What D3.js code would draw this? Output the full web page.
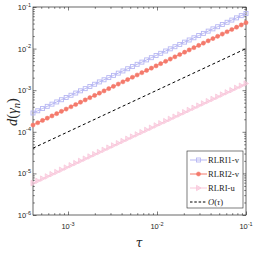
<!DOCTYPE html>
<html><head><meta charset="utf-8">
<script src="https://cdn.jsdelivr.net/npm/d3@7"></script>
<style>body{margin:0;background:#fff}svg{display:block}</style>
</head><body><svg id="c" width="254" height="255"></svg>
<script>
const tau = [4.04e-4,4.57e-4,5.17e-4,5.84e-4,6.60e-4,7.46e-4,8.43e-4,9.53e-4,1.08e-3,1.22e-3,1.38e-3,1.56e-3,1.76e-3,1.99e-3,2.25e-3,2.54e-3,2.87e-3,3.24e-3,3.67e-3,4.14e-3,4.68e-3,5.29e-3,5.98e-3,6.76e-3,7.64e-3,8.64e-3,9.76e-3,1.10e-2,1.25e-2,1.41e-2,1.59e-2,1.80e-2,2.04e-2,2.30e-2,2.60e-2,2.94e-2,3.32e-2,3.76e-2,4.25e-2,4.80e-2,5.42e-2,6.13e-2,6.93e-2,7.83e-2,8.85e-2,1.00e-1];
const rlri1v = [2.83e-4,3.20e-4,3.62e-4,4.09e-4,4.62e-4,5.22e-4,5.90e-4,6.67e-4,7.56e-4,8.54e-4,9.66e-4,1.09e-3,1.23e-3,1.39e-3,1.58e-3,1.78e-3,2.01e-3,2.27e-3,2.57e-3,2.90e-3,3.28e-3,3.70e-3,4.19e-3,4.73e-3,5.35e-3,6.05e-3,6.83e-3,7.70e-3,8.75e-3,9.87e-3,1.11e-2,1.26e-2,1.43e-2,1.61e-2,1.82e-2,2.06e-2,2.32e-2,2.63e-2,2.98e-2,3.36e-2,3.79e-2,4.29e-2,4.85e-2,5.48e-2,6.20e-2,7.00e-2];
const rlri2v = [1.454e-4,1.651e-4,1.874e-4,2.124e-4,2.409e-4,2.732e-4,3.098e-4,3.515e-4,3.996e-4,4.530e-4,5.142e-4,5.831e-4,6.602e-4,7.490e-4,8.498e-4,9.627e-4,1.091e-3,1.236e-3,1.405e-3,1.591e-3,1.805e-3,2.047e-3,2.321e-3,2.634e-3,2.987e-3,3.389e-3,3.842e-3,4.345e-3,4.954e-3,5.608e-3,6.346e-3,7.207e-3,8.197e-3,9.274e-3,1.052e-2,1.194e-2,1.353e-2,1.537e-2,1.743e-2,1.976e-2,2.238e-2,2.540e-2,2.881e-2,3.267e-2,3.705e-2,4.20e-2];
const rlriu = [5.86e-6,6.63e-6,7.50e-6,8.47e-6,9.57e-6,1.08e-5,1.22e-5,1.38e-5,1.57e-5,1.77e-5,2.00e-5,2.26e-5,2.55e-5,2.89e-5,3.26e-5,3.68e-5,4.16e-5,4.70e-5,5.32e-5,6.00e-5,6.79e-5,7.67e-5,8.67e-5,9.80e-5,1.11e-4,1.25e-4,1.42e-4,1.60e-4,1.81e-4,2.04e-4,2.31e-4,2.61e-4,2.96e-4,3.34e-4,3.77e-4,4.26e-4,4.81e-4,5.45e-4,6.16e-4,6.96e-4,7.86e-4,8.89e-4,1.00e-3,1.14e-3,1.28e-3,1.45e-3];
const refTau = [4.04e-4, 1e-1];
const refVal = [4.04e-5, 1e-2];
const xTicks = [1e-3, 1e-2, 1e-1];
const xTickLabels = ["-3", "-2", "-1"];
const yTicks = [1e-6, 1e-5, 1e-4, 1e-3, 1e-2, 1e-1];
const yTickLabels = ["-6", "-5", "-4", "-3", "-2", "-1"];
const seriesNames = ["RLRI1-v", "RLRI2-v", "RLRI-u"];

const svg = d3.select("#c");
const L = 33, R = 246, T = 7, B = 215;
const x = d3.scaleLog().domain([4.04e-4, 0.1]).range([L, R]);
const y = d3.scaleLog().domain([1e-6, 1e-1]).range([B, T]);
const axisCol = "#262626";

function minors(lo, hi) {
  const out = [];
  for (let e = Math.floor(Math.log10(lo)); e <= Math.ceil(Math.log10(hi)); e++)
    for (let m = 2; m <= 9; m++) { const v = m * Math.pow(10, e); if (v >= lo && v <= hi) out.push(v); }
  return out;
}
const xMin = minors(4.04e-4, 0.1), yMin = minors(1e-6, 0.1);

function styleAxis(g) {
  g.select(".domain").remove();
  g.selectAll("line").attr("stroke", axisCol).attr("stroke-width", 0.6);
  g.selectAll("text").remove();
}
svg.append("g").attr("transform", `translate(0,${B})`).call(d3.axisBottom(x).tickValues(xTicks).tickSize(-3.5).tickFormat("")).call(styleAxis);
svg.append("g").attr("transform", `translate(0,${B})`).call(d3.axisBottom(x).tickValues(xMin).tickSize(-1.8).tickFormat("")).call(styleAxis);
svg.append("g").attr("transform", `translate(0,${T})`).call(d3.axisTop(x).tickValues(xTicks).tickSize(-3.5).tickFormat("")).call(styleAxis);
svg.append("g").attr("transform", `translate(0,${T})`).call(d3.axisTop(x).tickValues(xMin).tickSize(-1.8).tickFormat("")).call(styleAxis);
svg.append("g").attr("transform", `translate(${L},0)`).call(d3.axisLeft(y).tickValues(yTicks).tickSize(-3.5).tickFormat("")).call(styleAxis);
svg.append("g").attr("transform", `translate(${L},0)`).call(d3.axisLeft(y).tickValues(yMin).tickSize(-1.8).tickFormat("")).call(styleAxis);
svg.append("g").attr("transform", `translate(${R},0)`).call(d3.axisRight(y).tickValues(yTicks).tickSize(-3.5).tickFormat("")).call(styleAxis);
svg.append("g").attr("transform", `translate(${R},0)`).call(d3.axisRight(y).tickValues(yMin).tickSize(-1.8).tickFormat("")).call(styleAxis);

svg.append("rect").attr("x", L).attr("y", T).attr("width", R - L).attr("height", B - T)
  .attr("fill", "none").attr("stroke", axisCol).attr("stroke-width", 0.7);

const lblFont = "'Liberation Sans', Arial, sans-serif";
xTicks.forEach((v, i) => {
  const t = svg.append("text").attr("x", x(v)).attr("y", 229).attr("text-anchor", "middle")
    .attr("font-family", lblFont).attr("font-size", 7.5).attr("fill", axisCol);
  t.append("tspan").text("10");
  t.append("tspan").attr("dy", -3.5).attr("font-size", 5.5).text(xTickLabels[i]);
});
yTicks.forEach((v, i) => {
  const t = svg.append("text").attr("x", 31).attr("y", y(v) + 3).attr("text-anchor", "end")
    .attr("font-family", lblFont).attr("font-size", 7.5).attr("fill", axisCol);
  t.append("tspan").text("10");
  t.append("tspan").attr("dy", -3.5).attr("font-size", 5.5).text(yTickLabels[i]);
});

svg.append("text").attr("x", 139).attr("y", 247).attr("text-anchor", "middle")
  .attr("font-family", "'DejaVu Serif', serif").attr("font-style", "italic").attr("font-size", 12).attr("fill", axisCol).text("τ");
const yl = svg.append("text").attr("transform", "translate(17,112) rotate(-90)").attr("text-anchor", "middle")
  .attr("font-family", "'Liberation Serif', 'DejaVu Serif', serif").attr("font-size", 14.5).attr("fill", axisCol);
yl.append("tspan").attr("font-style", "italic").text("d");
yl.append("tspan").text("(");
yl.append("tspan").attr("font-style", "italic").text("γ");
yl.append("tspan").attr("font-style", "italic").attr("font-size", 10.5).attr("dy", 3).text("n");
yl.append("tspan").attr("dy", -3).text(")");

const cBlue = "#b7b7f3", cRed = "#f47a6c", cPink = "#f9c7da";
const line = d3.line().x(d => x(d[0])).y(d => y(d[1]));
const plot = svg.append("g");
plot.append("path").datum(d3.zip(refTau, refVal)).attr("d", line).attr("fill", "none")
  .attr("stroke", "#000").attr("stroke-width", 1).attr("stroke-dasharray", "3,2.5");

function drawSeries(vals, col, marker) {
  const pts = d3.zip(tau, vals);
  plot.append("path").datum(pts).attr("d", line).attr("fill", "none").attr("stroke", col).attr("stroke-width", 1);
  const g = plot.append("g");
  pts.forEach(p => marker(g, x(p[0]), y(p[1]), col));
}
const sq = (g, cx, cy, col) => g.append("rect").attr("x", cx - 2).attr("y", cy - 2).attr("width", 4).attr("height", 4)
  .attr("fill", "none").attr("stroke", col).attr("stroke-width", 0.9);
const dot = (g, cx, cy, col) => g.append("circle").attr("cx", cx).attr("cy", cy).attr("r", 2.1).attr("fill", col).attr("stroke", col).attr("stroke-width", 0.5);
const tri = (g, cx, cy, col) => g.append("path").attr("d", `M${cx - 2},${cy - 2.7}L${cx + 2.5},${cy}L${cx - 2},${cy + 2.7}Z`)
  .attr("fill", col).attr("fill-opacity", 0.6).attr("stroke", col).attr("stroke-width", 0.8);

drawSeries(rlriu, cPink, tri);
drawSeries(rlri2v, cRed, dot);
drawSeries(rlri1v, cBlue, sq);

const lg = svg.append("g");
lg.append("rect").attr("x", 187).attr("y", 151).attr("width", 56).attr("height", 57)
  .attr("fill", "#fff").attr("stroke", axisCol).attr("stroke-width", 0.6);
const legY = [160, 174, 188, 202];
const legCols = [cBlue, cRed, cPink];
const legMarks = [sq, dot, tri];
seriesNames.forEach((n, i) => {
  lg.append("line").attr("x1", 190).attr("x2", 207).attr("y1", legY[i]).attr("y2", legY[i]).attr("stroke", legCols[i]).attr("stroke-width", 1);
  legMarks[i](lg, 198.5, legY[i], legCols[i]);
  lg.append("text").attr("x", 208).attr("y", legY[i] + 3.2).attr("font-family", "'Liberation Serif', serif")
    .attr("font-size", 8.6).attr("fill", axisCol).text(n);
});
lg.append("line").attr("x1", 190).attr("x2", 207).attr("y1", legY[3]).attr("y2", legY[3]).attr("stroke", "#000").attr("stroke-width", 1).attr("stroke-dasharray", "2.5,1.8");
const ot = lg.append("text").attr("x", 208).attr("y", legY[3] + 3.2).attr("font-family", "'Liberation Serif', serif")
  .attr("font-size", 8.6).attr("fill", axisCol);
ot.append("tspan").attr("font-style", "italic").text("O");
ot.append("tspan").text("(");
ot.append("tspan").attr("font-style", "italic").text("τ");
ot.append("tspan").text(")");
</script></body></html>
